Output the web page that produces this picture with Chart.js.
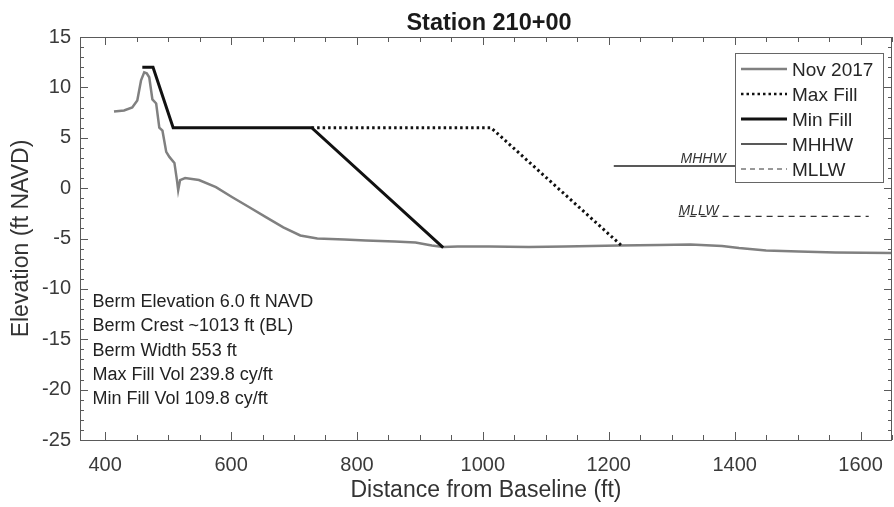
<!DOCTYPE html>
<html>
<head>
<meta charset="utf-8">
<title>Station 210+00</title>
<script src="https://cdn.jsdelivr.net/npm/chart.js@4.4.1/dist/chart.umd.min.js"></script>
<style>
  html, body { margin: 0; padding: 0; background: #ffffff; }
  #wrap { width: 894px; height: 507px; }
</style>
</head>
<body>
<div id="wrap"><canvas id="profile" width="894" height="507"></canvas></div>
<script>
// Survey profile, Nov 2017 (distance from baseline in ft, elevation in ft NAVD)
const nov2017X = [414, 430, 443, 451, 457, 462, 466, 470, 475, 481, 486, 491, 497, 502, 510, 514, 516, 519, 527, 549, 576, 602, 629, 656, 683, 710, 737, 780, 814, 860, 893, 919, 937, 960, 1010, 1073, 1130, 1216, 1280, 1330, 1380, 1407, 1450, 1502, 1560, 1650];
const nov2017Y = [7.6, 7.7, 8.0, 8.7, 10.7, 11.5, 11.4, 11.0, 8.8, 8.4, 6.0, 5.7, 3.6, 3.1, 2.5, 0.8, -0.2, 0.8, 1.0, 0.8, 0.1, -0.9, -1.9, -2.9, -3.9, -4.7, -5.0, -5.1, -5.2, -5.3, -5.4, -5.7, -5.85, -5.8, -5.8, -5.85, -5.8, -5.7, -5.65, -5.6, -5.75, -5.95, -6.2, -6.3, -6.4, -6.45];

// Design templates
const maxFillX = [728, 1013, 1222];
const maxFillY = [6.0, 6.0, -5.8];
const minFillX = [459, 476, 508, 728, 937];
const minFillY = [12.0, 12.0, 6.0, 6.0, -5.9];

// Tidal datums
const mhhwX = [1208, 1615];
const mhhwY = [2.2, 2.2];
const mllwX = [1311, 1613];
const mllwY = [-2.8, -2.8];

// Axis ticks
const xTickLabels = [400, 600, 800, 1000, 1200, 1400, 1600];
const yTickLabels = [-25, -20, -15, -10, -5, 0, 5, 10, 15];

// Summary notes
const notes = [
  'Berm Elevation 6.0 ft NAVD',
  'Berm Crest ~1013 ft (BL)',
  'Berm Width 553 ft',
  'Max Fill Vol 239.8 cy/ft',
  'Min Fill Vol 109.8 cy/ft'
];

const chartTitle = 'Station 210+00';

const FONT = '"Liberation Sans", Arial, Helvetica, sans-serif';
const pts = (xs, ys) => xs.map((x, i) => ({ x: x, y: ys[i] }));

// Inward ticks on all four sides plus the axes box
const boxTicks = {
  id: 'boxTicks',
  afterDatasetsDraw(chart) {
    const { ctx, chartArea: a, scales: { x, y } } = chart;
    ctx.save();
    ctx.strokeStyle = '#5a5a5a';
    ctx.lineWidth = 1;
    ctx.beginPath();
    for (let v = 400; v <= 1650; v += 50) {
      const px = Math.round(x.getPixelForValue(v)) + 0.5;
      const len = v % 200 === 0 ? 8 : 5;
      ctx.moveTo(px, a.bottom); ctx.lineTo(px, a.bottom - len);
      ctx.moveTo(px, a.top); ctx.lineTo(px, a.top + len);
    }
    for (let v = -25; v <= 15; v += 1) {
      const py = Math.round(y.getPixelForValue(v)) + 0.5;
      const len = v % 5 === 0 ? 8 : 4;
      ctx.moveTo(a.left, py); ctx.lineTo(a.left + len, py);
      ctx.moveTo(a.right, py); ctx.lineTo(a.right - len, py);
    }
    ctx.stroke();
    ctx.strokeRect(Math.round(a.left) + 0.5, Math.round(a.top) + 0.5,
                   Math.round(a.right - a.left) - 1, Math.round(a.bottom - a.top));
    ctx.restore();
  }
};

// Title, datum labels, notes block and in-plot legend
const annotations = {
  id: 'annotations',
  afterDraw(chart) {
    const { ctx, chartArea: a, scales: { x, y } } = chart;
    ctx.save();

    // title centred over the plot area
    ctx.fillStyle = '#1a1a1a';
    ctx.font = 'bold 23.5px ' + FONT;
    ctx.textAlign = 'center';
    ctx.textBaseline = 'alphabetic';
    ctx.fillText(chartTitle, (a.left + a.right) / 2 + 3, 29.5);

    // datum labels sit just above their lines
    ctx.textAlign = 'left';
    ctx.fillStyle = '#333333';
    ctx.font = 'italic 14px ' + FONT;
    ctx.fillText('MHHW', x.getPixelForValue(1314), y.getPixelForValue(mhhwY[0]) - 3);
    ctx.fillText('MLLW', x.getPixelForValue(mllwX[0]), y.getPixelForValue(mllwY[0]) - 1);

    // notes
    ctx.fillStyle = '#222222';
    ctx.font = '18px ' + FONT;
    const nx = x.getPixelForValue(380);
    let ny = y.getPixelForValue(-11.8);
    notes.forEach((t) => { ctx.fillText(t, nx, ny); ny += 24.3; });

    // legend box
    const lw = 148, lh = 129;
    const lx = a.right - 157, ly = a.top + 16;
    ctx.fillStyle = '#ffffff';
    ctx.fillRect(lx, ly, lw, lh);
    ctx.strokeStyle = '#666666';
    ctx.lineWidth = 1;
    ctx.strokeRect(Math.round(lx) + 0.5, Math.round(ly) + 0.5, lw, lh);

    const entries = [
      { label: 'Nov 2017', color: '#808080', width: 2.5, dash: [] },
      { label: 'Max Fill', color: '#111111', width: 2.5, dash: [2.5, 3] },
      { label: 'Min Fill', color: '#111111', width: 3, dash: [] },
      { label: 'MHHW', color: '#222222', width: 1.5, dash: [] },
      { label: 'MLLW', color: '#333333', width: 1, dash: [5, 4] }
    ];
    ctx.font = '19px ' + FONT;
    entries.forEach((e, i) => {
      const base = ly + 23 + i * 25;
      const my = base - 7;
      ctx.beginPath();
      ctx.strokeStyle = e.color;
      ctx.lineWidth = e.width;
      ctx.setLineDash(e.dash);
      ctx.moveTo(lx + 6, my);
      ctx.lineTo(lx + 52, my);
      ctx.stroke();
      ctx.setLineDash([]);
      ctx.fillStyle = '#262626';
      ctx.fillText(e.label, lx + 57, base);
    });

    ctx.restore();
  }
};

new Chart(document.getElementById('profile'), {
  type: 'line',
  data: {
    datasets: [
      { label: 'Nov 2017', data: pts(nov2017X, nov2017Y), borderColor: '#808080', borderWidth: 2.5, order: 5 },
      { label: 'Max Fill', data: pts(maxFillX, maxFillY), borderColor: '#111111', borderWidth: 3, borderDash: [2.5, 3], order: 2 },
      { label: 'Min Fill', data: pts(minFillX, minFillY), borderColor: '#111111', borderWidth: 3, order: 1 },
      { label: 'MHHW', data: pts(mhhwX, mhhwY), borderColor: '#222222', borderWidth: 1.5, order: 3 },
      { label: 'MLLW', data: pts(mllwX, mllwY), borderColor: '#333333', borderWidth: 1.2, borderDash: [6, 5], order: 4 }
    ]
  },
  options: {
    responsive: false,
    animation: false,
    devicePixelRatio: 1,
    elements: { point: { radius: 0, hoverRadius: 0 }, line: { tension: 0, fill: false, borderJoinStyle: 'miter' } },
    layout: { padding: { left: 0, right: 2, top: 37, bottom: 0 } },
    plugins: {
      legend: { display: false },
      tooltip: { enabled: false },
      title: { display: false }
    },
    scales: {
      x: {
        type: 'linear',
        min: 360,
        max: 1650,
        afterBuildTicks: (s) => { s.ticks = xTickLabels.map((v) => ({ value: v })); },
        afterFit: (s) => { s.height = 67; s.paddingLeft = 0; s.paddingRight = 0; },
        grid: { display: false, drawTicks: false },
        border: { display: false },
        ticks: { color: '#3a3a3a', font: { family: FONT, size: 20 }, padding: 13, maxRotation: 0, callback: (v) => String(v) },
        title: { display: true, text: 'Distance from Baseline (ft)', color: '#333333', font: { family: FONT, size: 23 }, padding: { top: 0, bottom: 3 } }
      },
      y: {
        type: 'linear',
        min: -25,
        max: 15,
        afterBuildTicks: (s) => { s.ticks = yTickLabels.map((v) => ({ value: v })); },
        afterFit: (s) => { s.width = 80; s.paddingTop = 0; s.paddingBottom = 0; },
        grid: { display: false, drawTicks: false },
        border: { display: false },
        ticks: { color: '#3a3a3a', font: { family: FONT, size: 20 }, padding: 9, callback: (v) => String(v) },
        title: { display: true, text: 'Elevation (ft NAVD)', color: '#333333', font: { family: FONT, size: 23 }, padding: { top: 8, bottom: 0 } }
      }
    }
  },
  plugins: [boxTicks, annotations]
});
</script>
</body>
</html>
